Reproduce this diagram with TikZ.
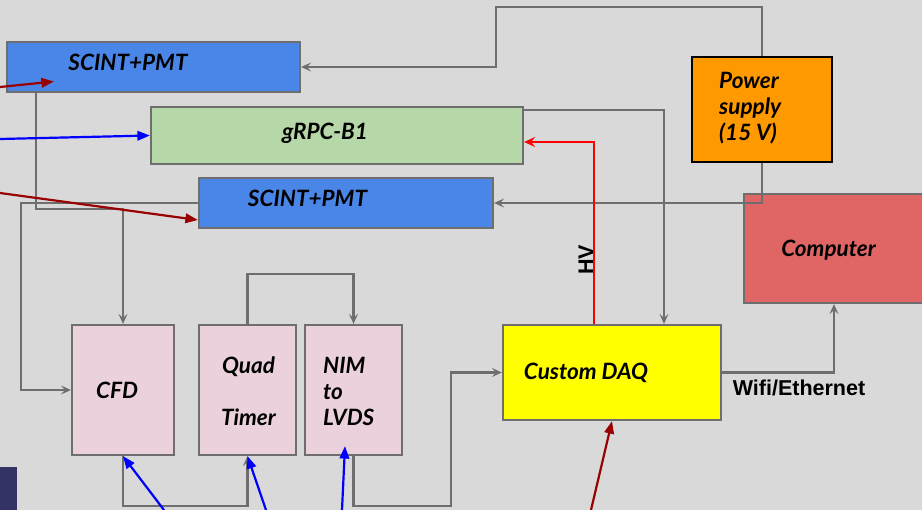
\documentclass[tikz,border=0pt]{standalone}
\usepackage{fontspec}
\setmainfont{Lato}
\newfontfamily\arialfont{Liberation Sans}
\usetikzlibrary{arrows.meta}
\definecolor{bg}{HTML}{D9D9D9}
\definecolor{linegray}{HTML}{6E6E6E}
\definecolor{scintblue}{HTML}{4A86E8}
\definecolor{rpcgreen}{HTML}{B6D7A8}
\definecolor{psorange}{HTML}{FF9900}
\definecolor{pcred}{HTML}{E06666}
\definecolor{modpink}{HTML}{EAD1DC}
\definecolor{daqyellow}{HTML}{FFFF00}
\definecolor{darkred}{HTML}{990000}
\definecolor{sigblue}{HTML}{0000FF}
\definecolor{hvred}{HTML}{FF0000}
\definecolor{navy}{HTML}{333366}
\begin{document}
\begin{tikzpicture}[x=1pt,y=-1pt,
  box/.style={draw=linegray, line width=2.2pt, inner sep=0pt, anchor=center},
  lbl/.style={font=\fontsize{22.5}{26}\selectfont\bfseries\itshape, inner sep=0pt, text=black},
  plainlbl/.style={font=\arialfont\fontsize{21.5}{24}\selectfont\bfseries, inner sep=0pt, text=black},
  glink/.style={draw=linegray, line width=2.2pt, -{Stealth[length=10pt,width=9pt,inset=4pt]}},
  clink/.style={line width=2.2pt, -{Triangle[length=12.5pt,width=9.5pt]}}
]
\useasboundingbox (0,0) rectangle (922,510);
\fill[bg] (0,0) rectangle (922,510);

% boxes
\node[box, fill=scintblue, minimum width=293pt, minimum height=50pt] (scint1) at (153.5,67) {};
\node[box, fill=rpcgreen, minimum width=372pt, minimum height=57pt] (grpc) at (337,135.5) {};
\node[box, fill=scintblue, minimum width=294pt, minimum height=50pt] (scint2) at (346,203) {};
\node[box, fill=psorange, draw=black, minimum width=140pt, minimum height=105pt] (power) at (762,109.5) {};
\node[box, fill=pcred, minimum width=180pt, minimum height=109pt] (computer) at (834,248.5) {};
\node[box, fill=modpink, minimum width=102pt, minimum height=130pt] (cfd) at (123,390) {};
\node[box, fill=modpink, minimum width=97pt, minimum height=130pt] (quad) at (247.5,390) {};
\node[box, fill=modpink, minimum width=97pt, minimum height=130pt] (nim) at (353.5,390) {};
\node[box, fill=daqyellow, minimum width=218pt, minimum height=95pt] (daq) at (612,372.5) {};
\node[fill=navy, inner sep=0pt, minimum width=17pt, minimum height=43pt] (navyblock) at (8.5,488.5) {};

% labels
\node[lbl] (scint1-t) at (128,62) {SCINT+PMT};
\node[lbl] (grpc-t) at (325,133) {gRPC-B1};
\node[lbl] (scint2-t) at (307.5,198) {SCINT+PMT};
\node[lbl, align=left, anchor=west] (power-t) at (719,108) {Power\\supply\\(15 V)};
\node[lbl] (computer-t) at (828.5,250) {Computer};
\node[lbl] (cfd-t) at (117,390) {CFD};
\node[lbl, align=center] (quad-t) at (248.5,391) {Quad\\[26pt]Timer};
\node[lbl, align=left, anchor=west] (nim-t) at (323,391) {NIM\\to\\LVDS};
\node[lbl] (daq-t) at (586,373) {Custom DAQ};
\node[plainlbl] (wifi-t) at (799,388) {Wifi/Ethernet};
\node[plainlbl, rotate=90] (hv-t) at (586,260) {HV};

% gray connectors
\draw[glink] (power.north) |- (496,7) |- (scint1.east);
\draw[glink] (power.south) |- (scint2.east);
\draw[glink] ([yshift=-4pt]grpc.north east) -| ([xshift=52pt]daq.north);
\draw[glink] ([xshift=30pt]scint1.south west) |- ([yshift=115pt]cfd.north) -- (cfd.north);
\draw[glink] (scint2.west) -| ([xshift=-50pt]cfd.west) -- (cfd.west);
\draw[glink] (quad.north) -- ++(0,-50) -| (nim.north);
\draw[glink] (cfd.south) -- ++(0,50) -| (quad.south);
\draw[glink] (nim.south) -- ++(0,50) -| ([xshift=-51pt]daq.west) -- (daq.west);
\draw[glink] (daq.east) -| (computer.south);

% HV line
\draw[line width=2.2pt, draw=hvred, -{Stealth[length=11pt,width=10pt,inset=4pt]}] ([xshift=-18pt]daq.north) |- ([yshift=-6.5pt]grpc.east);

% incoming signals
\coordinate (in-r1) at (0,87);
\coordinate (in-b1) at (0,139);
\coordinate (in-r2) at (0,193);
\coordinate (in-b2) at (164,510);
\coordinate (in-b3) at (266,510);
\coordinate (in-b4) at (342,510);
\coordinate (in-r3) at (591,510);
\draw[clink, draw=darkred] (in-r1) -- ([xshift=48pt,yshift=-14.5pt]scint1.west);
\draw[clink, draw=sigblue] (in-b1) -- (grpc.west);
\draw[clink, draw=darkred] (in-r2) -- ([yshift=-17pt]scint2.west);
\draw[clink, draw=sigblue] (in-b2) -- (cfd.south);
\draw[clink, draw=sigblue] (in-b3) -- (quad.south);
\draw[clink, draw=sigblue] (in-b4) -- ([xshift=-8.5pt,yshift=10pt]nim.south);
\draw[clink, draw=darkred] (in-r3) -- (daq.south);
\end{tikzpicture}
\end{document}
